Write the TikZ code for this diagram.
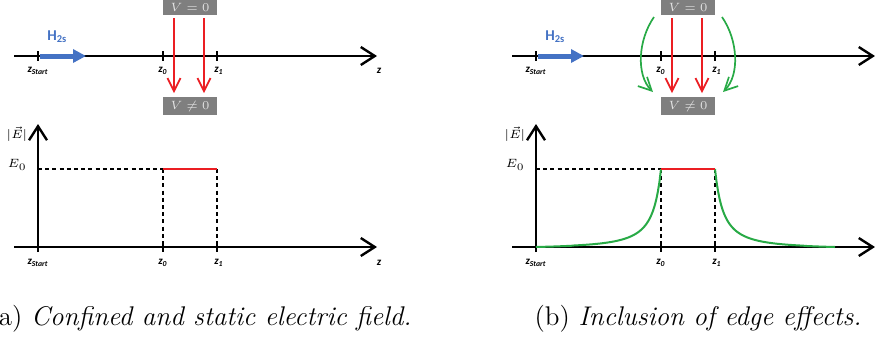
\documentclass[tikz,border=0pt]{standalone}
\usepackage{fontspec}
\newfontfamily\calib{Carlito}
\usetikzlibrary{arrows.meta}
\definecolor{hblue}{HTML}{4472C4}
\definecolor{ered}{RGB}{235,30,35}
\definecolor{egreen}{RGB}{40,170,70}
\definecolor{boxgrey}{HTML}{7F7F7F}
\definecolor{boxtext}{HTML}{E2E2E2}
\tikzset{
  axis/.style={line width=1.2pt,-{Straight Barb[length=7pt,width=9pt,line width=1.2pt]}},
  tickmark/.style={line width=1pt},
  zlab/.style={inner sep=0pt,font=\calib\bfseries\itshape\fontsize{5.5}{6}\selectfont},
  vbox/.style={fill=boxgrey,text=boxtext,inner sep=0pt,minimum width=27pt,font=\fontsize{6}{7}\selectfont},
  redarrow/.style={draw=ered,line width=0.85pt,-{Straight Barb[length=6.5pt,width=6.5pt,line width=0.85pt]}},
  greenarrow/.style={draw=egreen,line width=0.85pt,-{Straight Barb[length=6.5pt,width=6.5pt,line width=0.85pt]}},
  bluearrow/.style={draw=hblue,line width=2.5pt,-{Triangle[length=6.5pt,width=6.5pt]}},
  guide/.style={dashed,line width=1pt,dash pattern=on 2pt off 1.6pt},
  flabel/.style={inner sep=0pt,font=\fontsize{6}{7}\selectfont},
  capt/.style={inner sep=0pt,font=\fontsize{13.5}{15}\selectfont}
}
\begin{document}
\begin{tikzpicture}[x=0.5pt,y=-0.5pt]
\useasboundingbox (0,0) rectangle (875,339);
\foreach \s/\p in {0/a,498/b}{
\begin{scope}[xshift=\s*0.5pt]
  % top axis
  \coordinate (ts\p) at (14,56);
  \coordinate (te\p) at (377,56);
  \draw[axis] (ts\p) -- (te\p);
  \foreach \xx in {38,163,217} \draw[tickmark] (\xx,51) -- (\xx,61);
  \node[zlab] (tzs\p) at (38,71) {z\textsubscript{Start}};
  \node[zlab] (tz0\p) at (163,71) {z\textsubscript{0}};
  \node[zlab] (tz1\p) at (219,71) {z\textsubscript{1}};
  % H2s
  \coordinate (hs\p) at (40,56);
  \coordinate (he\p) at (86,56);
  \draw[bluearrow] (hs\p) -- (he\p);
  \node[inner sep=0pt,anchor=base west,text=hblue,font=\calib\bfseries\fontsize{7.5}{8}\selectfont] (h\p) at (47,40) {H\textsubscript{2s}};
  % boxes
  \node[vbox,minimum height=7.5pt] (vt\p) at (190,7.5) {$V=0$};
  \node[vbox,minimum height=9pt] (vb\p) at (190,106) {$V\neq0$};
  \coordinate (r1s\p) at (174,18); \coordinate (r1e\p) at (174,93);
  \coordinate (r2s\p) at (204,18); \coordinate (r2e\p) at (204,93);
  \draw[redarrow] (r1s\p) -- (r1e\p);
  \draw[redarrow] (r2s\p) -- (r2e\p);
  % bottom plot
  \coordinate (bs\p) at (14,247);
  \coordinate (be\p) at (377,247);
  \coordinate (vs\p) at (38,252);
  \coordinate (ve\p) at (38,124);
  \draw[axis] (bs\p) -- (be\p);
  \draw[axis] (vs\p) -- (ve\p);
  \coordinate (e0\p) at (38,169);
  \coordinate (p0\p) at (163,169);
  \coordinate (p1\p) at (217,169);
  \coordinate (q0\p) at (163,247);
  \coordinate (q1\p) at (217,247);
  \draw[guide] (e0\p) -- (p0\p);
  \draw[guide] (p0\p) -- (q0\p);
  \draw[guide] (p1\p) -- (q1\p);
  \foreach \xx in {163,217} \draw[tickmark] (\xx,243) -- (\xx,252);
  \draw[ered,line width=1pt] (p0\p) -- (p1\p);
  \node[zlab] (bzs\p) at (38,263) {z\textsubscript{Start}};
  \node[zlab] (bz0\p) at (163,263) {z\textsubscript{0}};
  \node[zlab] (bz1\p) at (219,263) {z\textsubscript{1}};
  \node[flabel] (el\p) at (17,134) {$|\vec{E}|$};
  \node[flabel,anchor=east] (e0l\p) at (27,165) {$E_0$};
\end{scope}
}
\node[zlab] (tza) at (379,71) {z};
\node[zlab] (bza) at (379,263) {z};
% green edge effects (panel b)
\coordinate (g1s) at (654,17); \coordinate (g1e) at (653,92);
\coordinate (g2s) at (722,17); \coordinate (g2e) at (723,92);
\draw[greenarrow] (g1s) .. controls (638,40) and (636,75) .. (g1e);
\draw[greenarrow] (g2s) .. controls (738,40) and (740,75) .. (g2e);
\draw[egreen,line width=1pt] plot[domain=536:661,samples=80] (\x,{247-78*(pow(12.6/(12.6+661-\x),1.5)-0.0277)/(1-0.0277)});
\draw[egreen,line width=1pt] plot[domain=715:835,samples=80] (\x,{247-78*(pow(12.6/(12.6+\x-715),1.5)-0.0293)/(1-0.0293)});
\draw[ered,line width=1pt] (p0b) -- (p1b);
% captions
\node[capt,anchor=base east] (capa) at (412,325) {(a) \textit{Confined and static electric field.}};
\node[capt,anchor=base east] (capb) at (862,325) {(b) \textit{Inclusion of edge effects.}};
\end{tikzpicture}
\end{document}
